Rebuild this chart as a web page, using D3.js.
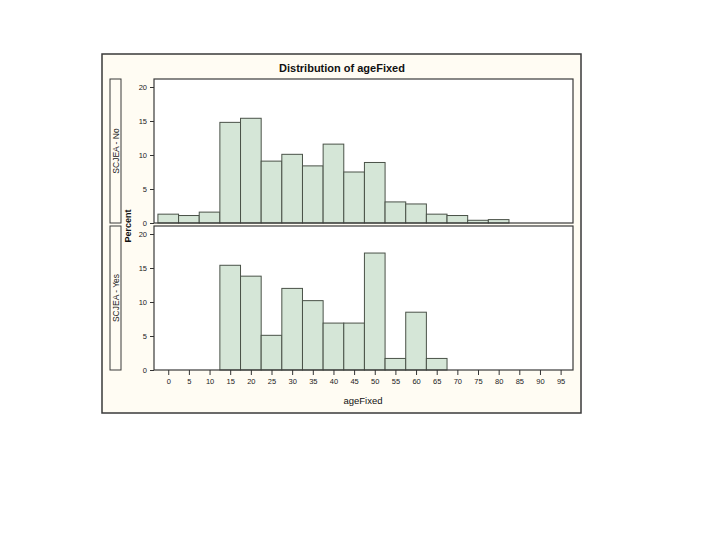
<!DOCTYPE html>
<html><head><meta charset="utf-8">
<script src="https://cdn.jsdelivr.net/npm/d3@7/dist/d3.min.js"></script>
<style>body{margin:0;background:#fff}svg{display:block}</style>
</head><body>
<svg id="c" width="720" height="540"></svg>
<script>
const binCenters = [0,5,10,15,20,25,30,35,40,45,50,55,60,65,70,75,80];
const pctNo  = [1.3,1.1,1.6,14.8,15.4,9.1,10.1,8.4,11.6,7.5,8.9,3.1,2.8,1.3,1.1,0.4,0.5];
const pctYes = [0,0,0,15.4,13.8,5.1,12.0,10.2,6.9,6.9,17.2,1.7,8.5,1.7,0,0,0];
const xTicks = [0,5,10,15,20,25,30,35,40,45,50,55,60,65,70,75,80,85,90,95];
const yTicks = [0,5,10,15,20];
const panelLabels = ["SCJEA - No","SCJEA - Yes"];
const binWidth = 5;

const svg = d3.select("#c");
const font = "'Liberation Sans', Arial, sans-serif";
const fill = "#d5e6d7", edge = "#4a5248";

// outer frame
svg.append("rect").attr("x",102).attr("y",54).attr("width",479).attr("height",359)
  .attr("fill","#fffcf3").attr("stroke","#3a3a3a").attr("stroke-width",1.5);

svg.append("text").attr("x",342).attr("y",72).attr("text-anchor","middle")
  .attr("font-family",font).attr("font-weight","bold").attr("font-size",11)
  .attr("fill","#111").text("Distribution of ageFixed");

const x = d3.scaleLinear().domain([-3.45,98]).range([154,573]);

const panels = [
  {vals:pctNo, top:79, bottom:223, label:panelLabels[0]},
  {vals:pctYes, top:226, bottom:370, label:panelLabels[1]}
];

panels.forEach((p,pi)=>{
  const y = d3.scaleLinear().domain([0,20]).range([p.bottom, p.bottom-136]);
  svg.append("rect").attr("x",154).attr("y",p.top).attr("width",419).attr("height",p.bottom-p.top)
    .attr("fill","#fff");
  const g = svg.append("g");
  g.selectAll("rect").data(binCenters.map((c,i)=>({c,v:p.vals[i]})).filter(d=>d.v>0))
    .join("rect")
    .attr("x",d=>x(d.c-binWidth/2)).attr("width",d=>x(d.c+binWidth/2)-x(d.c-binWidth/2))
    .attr("y",d=>y(d.v)).attr("height",d=>y(0)-y(d.v))
    .attr("fill",fill).attr("stroke",edge).attr("stroke-width",1);
  svg.append("rect").attr("x",154).attr("y",p.top).attr("width",419).attr("height",p.bottom-p.top)
    .attr("fill","none").attr("stroke","#3a3a3a").attr("stroke-width",1.2);
  const ya = svg.append("g").attr("transform","translate(154,0)")
    .call(d3.axisLeft(y).tickValues(yTicks).tickSize(4).tickPadding(3));
  ya.select(".domain").remove();
  ya.selectAll("line").attr("stroke","#333");
  ya.selectAll("text").attr("font-family",font).attr("font-size",7.5).attr("fill","#222");
  // strip label
  svg.append("rect").attr("x",110).attr("y",p.top).attr("width",11).attr("height",p.bottom-p.top)
    .attr("fill","#fffcf3").attr("stroke","#3a3a3a").attr("stroke-width",1);
  svg.append("text").attr("transform",`translate(118.8,${(p.top+p.bottom)/2}) rotate(-90)`)
    .attr("text-anchor","middle").attr("font-family",font).attr("font-size",8.5)
    .attr("fill","#222").text(p.label);
});

const xa = svg.append("g").attr("transform","translate(0,370)")
  .call(d3.axisBottom(x).tickValues(xTicks).tickSize(5).tickPadding(4));
xa.select(".domain").remove();
xa.selectAll("line").attr("stroke","#333");
xa.selectAll("text").attr("font-family",font).attr("font-size",7.5).attr("fill","#222");

svg.append("text").attr("x",363).attr("y",404).attr("text-anchor","middle")
  .attr("font-family",font).attr("font-size",9.5).attr("fill","#111").text("ageFixed");

svg.append("text").attr("transform","translate(131,226) rotate(-90)")
  .attr("text-anchor","middle").attr("font-family",font).attr("font-weight","bold")
  .attr("font-size",9).attr("fill","#111").text("Percent");
</script>
</body></html>
